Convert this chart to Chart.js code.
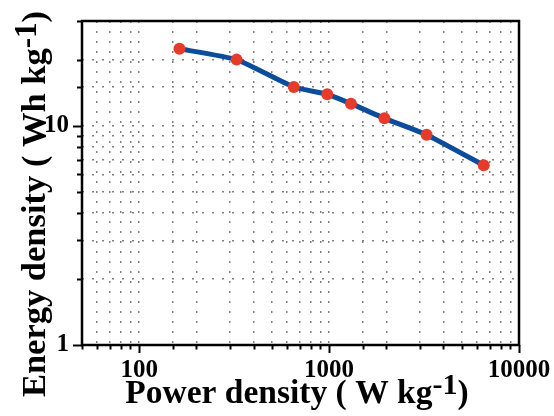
<!DOCTYPE html>
<html>
<head>
<meta charset="utf-8">
<script src="https://cdn.jsdelivr.net/npm/chart.js@4/dist/chart.umd.min.js"></script>
<style>
  html, body { margin: 0; padding: 0; background: #fff; }
  #wrap { width: 554px; height: 416px; }
</style>
</head>
<body>
<div id="wrap"><canvas id="ragone" width="554" height="416"></canvas></div>
<script>
'use strict';

// values
const powerDensity  = [163, 326, 652, 978, 1304, 1956, 3260, 6520];   // W kg-1
const energyDensity = [22.4, 20.0, 15.0, 13.9, 12.6, 10.8, 9.1, 6.6];  // Wh kg-1
const xTickLabels = [100, 1000, 10000];
const yTickLabels = [1, 10];

const SERIF = "'Liberation Serif', 'Times New Roman', serif";

const isDecade = v => Math.abs(Math.log10(v) - Math.round(Math.log10(v))) < 1e-9;

/* ── rich text helper (superscript) ─────────────────── */
function drawRich(ctx, parts, size) {
    let total = 0;
    parts.forEach(p => {
        ctx.font = `bold ${size * (p.sup ? 0.9 : 1)}px ${SERIF}`;
        p.w = ctx.measureText(p.t).width;
        total += p.w;
    });
    let x = -total / 2;
    parts.forEach(p => {
        ctx.font = `bold ${size * (p.sup ? 0.9 : 1)}px ${SERIF}`;
        ctx.fillText(p.t, x, p.sup ? -size * 0.26 : 0);
        x += p.w;
    });
}

/* ── frame, ticks, axis titles ──────────────────────── */
const framePlugin = {
    id: 'frame',
    afterDraw(chart) {
        const { ctx, chartArea: a, scales: { x, y } } = chart;
        ctx.save();
        ctx.strokeStyle = '#000';
        ctx.lineWidth = 2;
        x.ticks.forEach(t => {
            const px = Math.round(x.getPixelForValue(t.value)) + 0.5;
            const len = isDecade(t.value) ? 8 : 4.5;
            ctx.beginPath(); ctx.moveTo(px, a.bottom); ctx.lineTo(px, a.bottom + len); ctx.stroke();
        });
        y.ticks.forEach(t => {
            const py = Math.round(y.getPixelForValue(t.value)) + 0.5;
            const len = isDecade(t.value) ? 9 : 5;
            ctx.beginPath(); ctx.moveTo(a.left, py); ctx.lineTo(a.left - len, py); ctx.stroke();
        });
        ctx.lineWidth = 2.5;
        ctx.strokeRect(a.left, a.top, a.right - a.left, a.bottom - a.top);

        ctx.fillStyle = '#000';
        ctx.textBaseline = 'alphabetic';
        ctx.textAlign = 'left';

        ctx.save();
        ctx.translate(297, 403);
        drawRich(ctx, [{ t: 'Power density ( W kg' }, { t: '-1', sup: true }, { t: ')' }], 33.5);
        ctx.restore();

        ctx.save();
        ctx.translate(45, 204);
        ctx.rotate(-Math.PI / 2);
        drawRich(ctx, [{ t: 'Energy density ( Wh kg' }, { t: '-1', sup: true }, { t: ')' }], 34.5);
        ctx.restore();

        ctx.restore();
    }
};

const tickFont = { family: SERIF, weight: 'bold', size: 25 };
const gridStyle = { color: '#808080', lineWidth: 1.5, drawTicks: false };

new Chart(document.getElementById('ragone'), {
    type: 'line',
    data: {
        datasets: [{
            data: powerDensity.map((p, i) => ({ x: p, y: energyDensity[i] })),
            borderColor: '#0b4c9c',
            borderWidth: 5,
            tension: 0.15,
            pointBackgroundColor: '#e63a2b',
            pointBorderWidth: 0,
            pointRadius: 6,
            fill: false,
        }]
    },
    options: {
        responsive: false,
        animation: false,
        layout: { padding: { top: 21, right: 35, left: 0, bottom: 0 } },
        plugins: { legend: { display: false }, tooltip: { enabled: false } },
        scales: {
            x: {
                type: 'logarithmic',
                min: 50, max: 10000,
                grid: gridStyle,
                border: { display: false, dash: [2, 8] },
                ticks: {
                    autoSkip: false, maxRotation: 0, color: '#000', font: tickFont, padding: 11,
                    callback: v => xTickLabels.includes(v) ? String(v) : ''
                },
                afterFit: s => { s.height = 71; s.paddingLeft = 0; s.paddingRight = 0; }
            },
            y: {
                type: 'logarithmic',
                min: 1, max: 30,
                grid: gridStyle,
                border: { display: false, dash: [2, 8] },
                ticks: {
                    autoSkip: false, color: '#000', font: tickFont, padding: 13,
                    callback: v => yTickLabels.includes(v) ? String(v) : ''
                },
                afterFit: s => { s.width = 82; s.paddingTop = 0; s.paddingBottom = 0; }
            }
        }
    },
    plugins: [framePlugin]
});
</script>
</body>
</html>
